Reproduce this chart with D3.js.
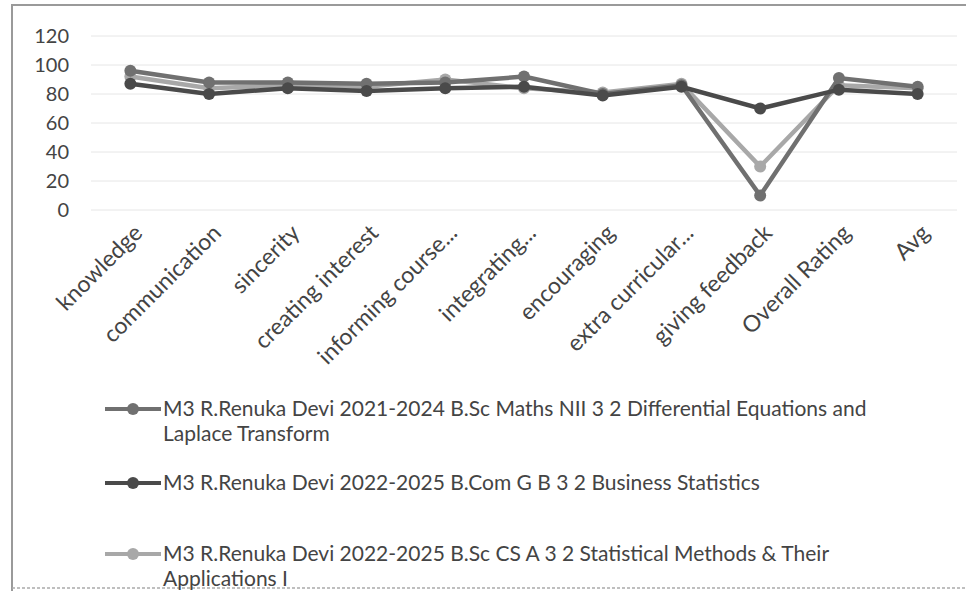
<!DOCTYPE html>
<html>
<head>
<meta charset="utf-8">
<script src="https://cdn.jsdelivr.net/npm/d3@7"></script>
<style>
body{margin:0;background:#fff;}
text{font-family:"Lato","Open Sans",sans-serif;}
</style>
</head>
<body>
<svg id="svg" width="966" height="591"></svg>
<script>
var categories=["knowledge","communication","sincerity","creating interest","informing course...","integrating...","encouraging","extra curricular...","giving feedback","Overall Rating","Avg"];
var maths=[96,88,88,87,88,92,80,86,10,91,85];
var bcom=[87,80,84,82,84,85,79,85,70,83,80];
var bsccs=[92,84,86,85,90,84,81,87,30,86,84];
var seriesNames=[
    ["M3 R.Renuka Devi 2021-2024 B.Sc Maths NII 3 2 Differential Equations and","Laplace Transform"],
    ["M3 R.Renuka Devi 2022-2025 B.Com G B 3 2 Business Statistics"],
    ["M3 R.Renuka Devi 2022-2025 B.Sc CS A 3 2 Statistical Methods & Their","Applications I"]
];
var yTicks=[0,20,40,60,80,100,120];
var colors=["#707070","#4a4a4a","#a8a8a8"];

var svg=d3.select("#svg");
var plotLeft=91, plotRight=957, plotTop=36, plotBottom=210;

// frame of the scanned chart
svg.append("path")
    .attr("d","M12,591 L12,5 L966,5")
    .attr("fill","none").attr("stroke","#9a9a9a").attr("stroke-width",2)
svg.append("line")
    .attr("x1",12).attr("x2",966).attr("y1",588).attr("y2",588)
    .attr("stroke","#aaa").attr("stroke-width",1.5).attr("stroke-dasharray","3,2")

var x=d3.scaleBand().domain(categories).range([plotLeft,plotRight])
var y=d3.scaleLinear().domain([0,120]).range([plotBottom,plotTop])

//grid
svg.append("g").selectAll("line")
    .data(yTicks).enter().append("line")
        .attr("x1",plotLeft).attr("x2",plotRight)
        .attr("y1",d=>y(d)).attr("y2",d=>y(d))
        .attr("stroke","#e6e6e6").attr("stroke-width",1)

var yAxis=svg.append("g")
        .attr("transform","translate("+plotLeft+",0)")
    .call(d3.axisLeft(y).tickValues(yTicks).tickSize(0).tickPadding(22))
yAxis.select(".domain").remove()
yAxis.selectAll("text").style("font-size","20px").attr("fill","#444")

var xAxis=svg.append("g")
        .attr("transform","translate(0,"+(plotBottom+13)+")")
    .call(d3.axisBottom(x).tickSize(0).tickPadding(0))
xAxis.select(".domain").remove()
xAxis.selectAll("text")
        .style("font-size","23px").attr("fill","#444")
        .style("text-anchor","end")
        .attr("dy","0.7em")
        .attr("transform","translate(2,0) rotate(-45)")

var line=d3.line().x((d,i)=>x(categories[i])+x.bandwidth()/2).y(d=>y(d))
var allSeries=[maths,bcom,bsccs];
var drawOrder=[2,0,1];

drawOrder.forEach(function(s){
    var g=svg.append("g")
    g.append("path")
        .datum(allSeries[s])
        .attr("d",line)
        .attr("fill","none")
        .attr("stroke",colors[s])
        .attr("stroke-width",4.5)
    g.selectAll("circle")
        .data(allSeries[s]).enter().append("circle")
            .attr("cx",(d,i)=>x(categories[i])+x.bandwidth()/2)
            .attr("cy",d=>y(d))
            .attr("r",6)
            .attr("fill",colors[s])
})

//legend
var legendY=[409,483,554];
seriesNames.forEach(function(lines,s){
    var lg=svg.append("g").attr("transform","translate(105,"+legendY[s]+")")
    lg.append("line")
        .attr("x1",0).attr("x2",56).attr("y1",0).attr("y2",0)
        .attr("stroke",colors[s]).attr("stroke-width",4)
    lg.append("circle").attr("cx",28).attr("cy",0).attr("r",6).attr("fill",colors[s])
    lg.selectAll("text")
        .data(lines).enter().append("text")
            .attr("x",58)
            .attr("y",(d,i)=>i*25)
            .attr("dy","0.35em")
            .style("font-size","21px")
            .attr("fill","#444")
            .text(d=>d)
})
</script>
</body>
</html>
